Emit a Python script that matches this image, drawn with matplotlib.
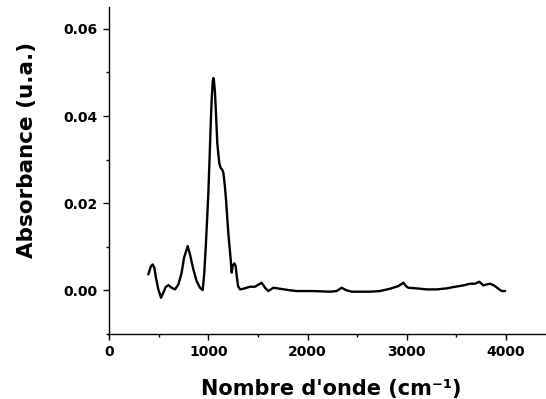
import matplotlib
matplotlib.use("Agg")
import matplotlib.pyplot as plt
from matplotlib.ticker import MultipleLocator

plt.rcParams['font.family'] = ['DejaVu Sans']
plt.rcParams['font.weight'] = 'bold'

wavenumber = [396, 423, 440, 457, 473, 497, 524, 547, 571, 598, 631, 665, 699, 732, 756, 793,
              816, 850, 883, 917, 944, 960, 975, 990, 1001, 1013, 1024, 1035, 1045, 1051, 1058,
              1068, 1080, 1091, 1111, 1125, 1140, 1152, 1166, 1179, 1202, 1226, 1236, 1246, 1263,
              1276, 1287, 1300, 1320, 1353, 1421, 1471, 1538, 1572, 1605, 1656, 1723, 1807,
              1891, 2059, 2227, 2294, 2344, 2395, 2445, 2563, 2630, 2730, 2831, 2915, 2966,
              2992, 3016, 3100, 3201, 3302, 3402, 3469, 3570, 3637, 3688, 3731, 3772, 3805,
              3839, 3879, 3923, 3956, 3990]
absorbance = [0.00367, 0.00557, 0.00596, 0.00519, 0.0029, 0.00023, -0.00168, -0.00053, 0.00076,
              0.00122, 0.00061, 0.00023, 0.00137, 0.00405, 0.00748, 0.01016,
              0.00825, 0.00481, 0.00214, 0.00061, 0.00008, 0.0040, 0.0100, 0.0170, 0.0224,
              0.0300, 0.0376, 0.0440, 0.0478, 0.0487, 0.0480,
              0.0453, 0.0395, 0.0338, 0.0292, 0.0281, 0.0277, 0.0270, 0.0242, 0.0208, 0.0132,
              0.0071, 0.0041, 0.0056, 0.0062,
              0.0056, 0.0033, 0.0010, 0.00023, 0.00038, 0.00084, 0.00084, 0.00176, 0.00061,
              -0.00015, 0.00061, 0.00038, 0.00008,
              -0.00015, -0.00015, -0.0003, -0.00015, 0.00061, 0.0000, -0.0003, -0.0003,
              -0.0003, -0.00015, 0.00038, 0.00099, 0.00176,
              0.00099, 0.00061, 0.00046, 0.00023, 0.00023, 0.00046, 0.00076, 0.00115, 0.00153,
              0.00153, 0.00199, 0.00115, 0.00137,
              0.00153, 0.00115, 0.00038, -0.00015, -0.00015]

xticks = [0, 1000, 2000, 3000, 4000]
yticks = [0.00, 0.02, 0.04, 0.06]
ytick_labels = ['0.00', '0.02', '0.04', '0.06']

fig = plt.figure(figsize=(5.46, 3.99), dpi=100)
ax = fig.add_axes([109/546, 1 - 334/399, 1 - 109/546, (334 - 7)/399])
ax.plot(wavenumber, absorbance, color='black', lw=1.7, solid_joinstyle='round',
        solid_capstyle='round')
ax.set_xlim(0, 4403)
ax.set_ylim(-0.01, 0.065)
ax.set_xticks(xticks)
ax.set_yticks(yticks)
ax.set_yticklabels(ytick_labels)
ax.xaxis.set_minor_locator(MultipleLocator(500))
ax.yaxis.set_minor_locator(MultipleLocator(0.01))
ax.spines['top'].set_visible(False)
ax.spines['right'].set_visible(False)
for s in ['left', 'bottom']:
    ax.spines[s].set_linewidth(1.0)
ax.tick_params(which='major', direction='out', length=4.5, width=1.0, labelsize=10, pad=3.5)
ax.tick_params(which='minor', direction='out', length=2.2, width=1.0)
for lab in ax.get_xticklabels() + ax.get_yticklabels():
    lab.set_fontweight('bold')

fig.text(331/546, 4/399, "Nombre d'onde (cm\u207b\u00b9)", ha='center', va='baseline',
         fontsize=15, fontweight='bold')
fig.text(27/546, 1 - 150/399, 'Absorbance (u.a.)', rotation=90, ha='center', va='center',
         fontsize=15.5, fontweight='bold')

fig.savefig('out.png', dpi=100)
